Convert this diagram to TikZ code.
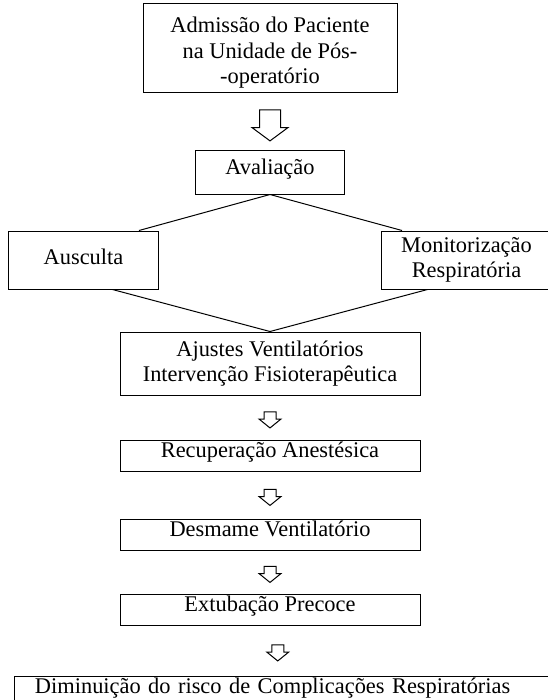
\documentclass[tikz,border=0pt]{standalone}
\usepackage{fontspec}
\setmainfont{Liberation Serif}
\usepackage{tikz}
\usetikzlibrary{shapes.arrows,positioning,calc}

\begin{document}
\begin{tikzpicture}[
        x=1bp, y=1bp,
        font=\fontsize{22.4bp}{25.5bp}\selectfont,
        box/.style={rectangle, draw, line width=1bp, inner sep=0pt, align=center},
        line1/.style={text height=0.7em, text depth=0.25em},
        wide/.style={box, minimum width=300bp, minimum height=31bp},
        bigarrow/.style={single arrow, draw, line width=1bp, shape border rotate=270, minimum height=31bp, minimum width=35bp, single arrow head extend=7.5bp, single arrow tip angle=107, inner xsep=10bp, inner ysep=0pt},
        smallarrow/.style={bigarrow, minimum height=16bp, minimum width=21bp, single arrow head extend=5bp, single arrow tip angle=102, inner xsep=5.5bp},
        link/.style={line width=1bp}
    ]
        \useasboundingbox (0,0) rectangle (548,-700);

        % Boxes
        \node[box, minimum width=254bp, minimum height=89bp] (adm) at (270,-48.5) {\rule{0pt}{1.1em}Admissão do Paciente\\na Unidade de Pós-\\-operatório};
        \node[box, line1, minimum width=149bp, minimum height=44bp, below=56bp of adm] (aval) {Avaliação};
        \node[box, text height=1.15em, text depth=0.25em, minimum width=150bp, minimum height=58bp, below=36bp of aval, xshift=-186.5bp] (ausc) {Ausculta};
        \node[box, minimum width=170bp, minimum height=58bp, below=36bp of aval, xshift=196.5bp] (monit) {Monitorização\\Respiratória};
        \node[wide, minimum height=63bp, below=137bp of aval] (ajus) {Ajustes Ventilatórios\\Intervenção Fisioterapêutica};
        \node[wide, line1, below=44bp of ajus] (recup) {Recuperação Anestésica};
        \node[wide, line1, below=47bp of recup] (desm) {Desmame Ventilatório};
        \node[wide, line1, below=43bp of desm] (extub) {Extubação Precoce};
        \node[box, line1, text width=501bp, inner xsep=20bp, align=left, minimum height=31bp, below=50bp of extub.south west, anchor=north west, xshift=-105bp] (dimin) {Diminuição do risco de Complicações Respiratórias};

        % Hollow arrows
        \node[bigarrow] (a0) at ($(adm.south)!0.5!(aval.north)$) {};
        \node[smallarrow] (a1) at ($(ajus.south)!0.5!(recup.north)$) {};
        \node[smallarrow] (a2) at ($(recup.south)!0.5!(desm.north)$) {};
        \node[smallarrow] (a3) at ($(desm.south)!0.5!(extub.north)$) {};
        \node[smallarrow] (a4) at ($(extub.south)!0.5!(dimin.north)$) {};

        % Connections
        \draw[link] (aval.south) -- ([xshift=-20bp]ausc.north east);
        \draw[link] (aval.south) -- ([xshift=21bp]monit.north west);
        \draw[link] ([xshift=29bp]ausc.south) -- (ajus.north);
        \draw[link] ([xshift=-39bp]monit.south) -- (ajus.north);

    \end{tikzpicture}
\end{document}
